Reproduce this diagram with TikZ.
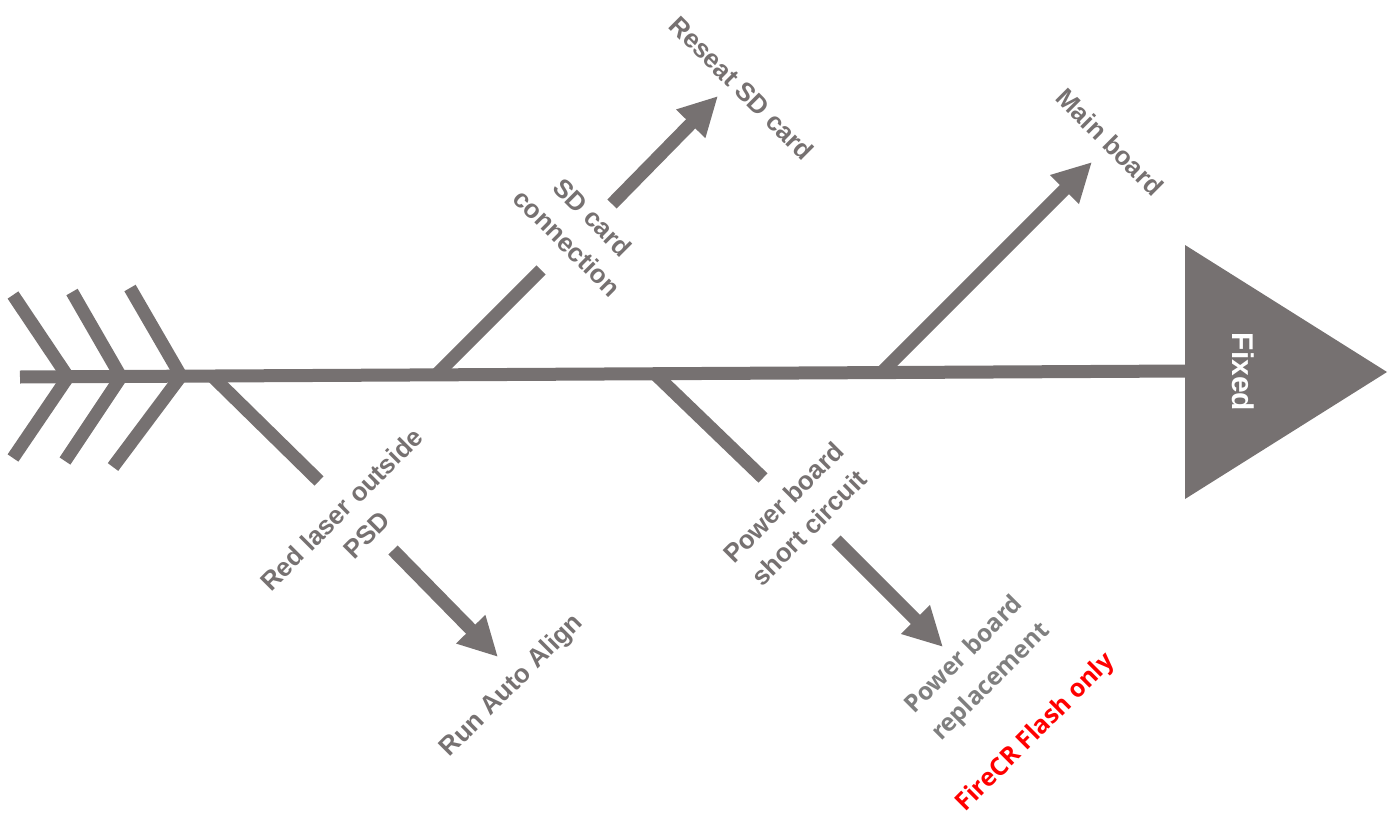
\documentclass[tikz,border=0pt]{standalone}
\usepackage{fontspec}
\setmainfont{Liberation Sans}
\newfontfamily\osans{Open Sans}
\usetikzlibrary{arrows.meta}
\definecolor{bone}{HTML}{767171}
\definecolor{lightbone}{HTML}{7F7F7F}
\begin{document}
\begin{tikzpicture}[x=1pt,y=-1pt,
  bonel/.style={draw=bone,line width=13pt},
  arr/.style={bonel,-{Triangle[length=39pt,width=38pt]}},
  lbl/.style={text=bone,font=\fontsize{26}{36}\selectfont\bfseries,align=center,inner sep=0pt},
  lbl2/.style={text=lightbone,font=\osans\fontsize{24.5}{38}\selectfont\bfseries,align=center,inner sep=0pt},
  redlbl/.style={text=red,font=\osans\fontsize{25}{30}\selectfont\bfseries,inner sep=0pt},
]
\useasboundingbox (0,0) rectangle (1394,816);
% head
\coordinate (t1) at (1185,245);
\coordinate (t2) at (1185,499);
\coordinate (t3) at (1387,372);
\fill[bone] (t1) -- (t2) -- (t3) -- cycle;
\node[text=white,font=\fontsize{30}{36}\selectfont\bfseries,rotate=-90,inner sep=0pt] (fixed) at (1243,372) {Fixed};
% spine
\coordinate (tail) at (20,377);
\coordinate (head) at (1187,371);
\draw[bonel] (tail) -- (head);
% chevrons
\coordinate (c1a) at (13,295); \coordinate (c1v) at (68,377); \coordinate (c1b) at (13,458);
\coordinate (c2a) at (72,292); \coordinate (c2v) at (121,377); \coordinate (c2b) at (65,461);
\coordinate (c3a) at (130,288); \coordinate (c3v) at (181,376); \coordinate (c3b) at (113,467);
\draw[bonel,line join=miter] (c1a) -- (c1v) -- (c1b);
\draw[bonel,line join=miter] (c2a) -- (c2v) -- (c2b);
\draw[bonel,line join=miter] (c3a) -- (c3v) -- (c3b);
% bones
\coordinate (b1s) at (212,376); \coordinate (b1e) at (319,481);
\coordinate (b2s) at (436,375); \coordinate (b2e) at (541,270);
\coordinate (b3s) at (655,374); \coordinate (b3e) at (763,478);
\coordinate (b4s) at (882,372); \coordinate (b4e) at (1092,162);
\draw[bonel] (b1s) -- (b1e);
\draw[bonel] (b2s) -- (b2e);
\draw[bonel] (b3s) -- (b3e);
\draw[arr] (b4s) -- (b4e);
% arrows
\coordinate (a1s) at (612,204); \coordinate (a1e) at (718,96);
\coordinate (a2s) at (393,550); \coordinate (a2e) at (498,657);
\coordinate (a3s) at (836,540); \coordinate (a3e) at (943,647);
\draw[arr] (a1s) -- (a1e);
\draw[arr] (a2s) -- (a2e);
\draw[arr] (a3s) -- (a3e);
% labels
\node[lbl,rotate=-45] (reseat) at (742,88) {Reseat SD card};
\node[lbl,rotate=-45] (mainb) at (1110,142) {Main board};
\node[lbl,rotate=-45] (sdconn) at (580,230) {SD card\\connection};
\node[lbl,rotate=45] (redlaser) at (354,522) {Red laser outside\\PSD};
\node[lbl,rotate=45] (autoalign) at (512,686) {Run Auto Align};
\node[lbl,rotate=45] (pshort) at (796,515) {Power board\\short circuit};
\node[lbl2,rotate=45] (prepl) at (978,669) {Power board\\replacement};
\node[redlbl,rotate=45] (firecr) at (1036,733) {FireCR Flash only};
\end{tikzpicture}
\end{document}
